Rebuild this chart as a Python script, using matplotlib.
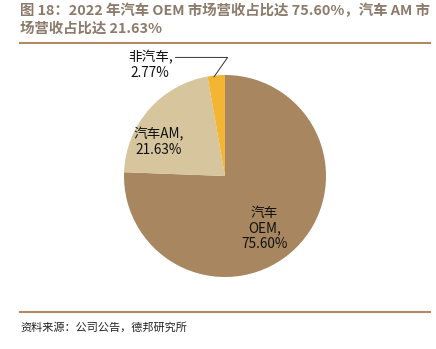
import matplotlib
matplotlib.use("Agg")
import matplotlib.pyplot as plt
from matplotlib.lines import Line2D

plt.rcParams['font.family'] = ['Noto Sans CJK SC', 'DejaVu Sans']

categories = ["汽车\nOEM,", "汽车AM,", "非汽车,"]
values = [75.60, 21.63, 2.77]
colors = ["#A8865F", "#D6C59D", "#F2B633"]

fig = plt.figure(figsize=(4.36, 3.49), dpi=100)

title = "图 18：2022 年汽车 OEM 市场营收占比达 75.60%，汽车 AM 市\n场营收占比达 21.63%"
fig.text(20/436, 1-4/349, title, ha="left", va="top", fontsize=10.4,
         fontweight="bold", color="#8C7B6B", linespacing=1.3)
fig.add_artist(Line2D([20/436, 430/436], [1-43/349, 1-43/349], color="#B08A64", lw=1.5))
fig.add_artist(Line2D([20/436, 430/436], [1-312/349, 1-312/349], color="#B08A64", lw=1.5))
fig.text(20/436, 1-327/349, "资料来源：公司公告，德邦研究所", ha="left", va="center",
         fontsize=8, color="#222222")

cx, cy, r = 225/436, 1-176/349, 101
ax = fig.add_axes([cx - r/436, cy - r/349, 2*r/436, 2*r/349])
wedges, _ = ax.pie(values, colors=colors, startangle=90, counterclock=False,
                   wedgeprops=dict(linewidth=0))
ax.set_xlim(-1, 1)
ax.set_ylim(-1, 1)
ax.set_aspect("auto")

ax.text(0.39, -0.52, f"汽车\nOEM,\n{values[0]:.2f}%", ha="center", va="center",
        fontsize=9.8, color="#111111", linespacing=1.15)
ax.text(-0.66, 0.34, f"汽车AM,\n{values[1]:.2f}%", ha="center", va="center",
        fontsize=9.8, color="#111111", linespacing=1.15)
ax.annotate(f"非汽车,\n{values[2]:.2f}%", xy=(-0.11, 0.98), xytext=(-0.74, 1.10),
            ha="center", va="center", fontsize=9.8, color="#111111", linespacing=1.15,
            annotation_clip=False,
            arrowprops=dict(arrowstyle="-", color="#333333", lw=0.7,
                            shrinkA=0, shrinkB=0, relpos=(1.0, 0.75),
                            connectionstyle="angle,angleA=0,angleB=55,rad=0"))

fig.savefig("out.png", dpi=100)
